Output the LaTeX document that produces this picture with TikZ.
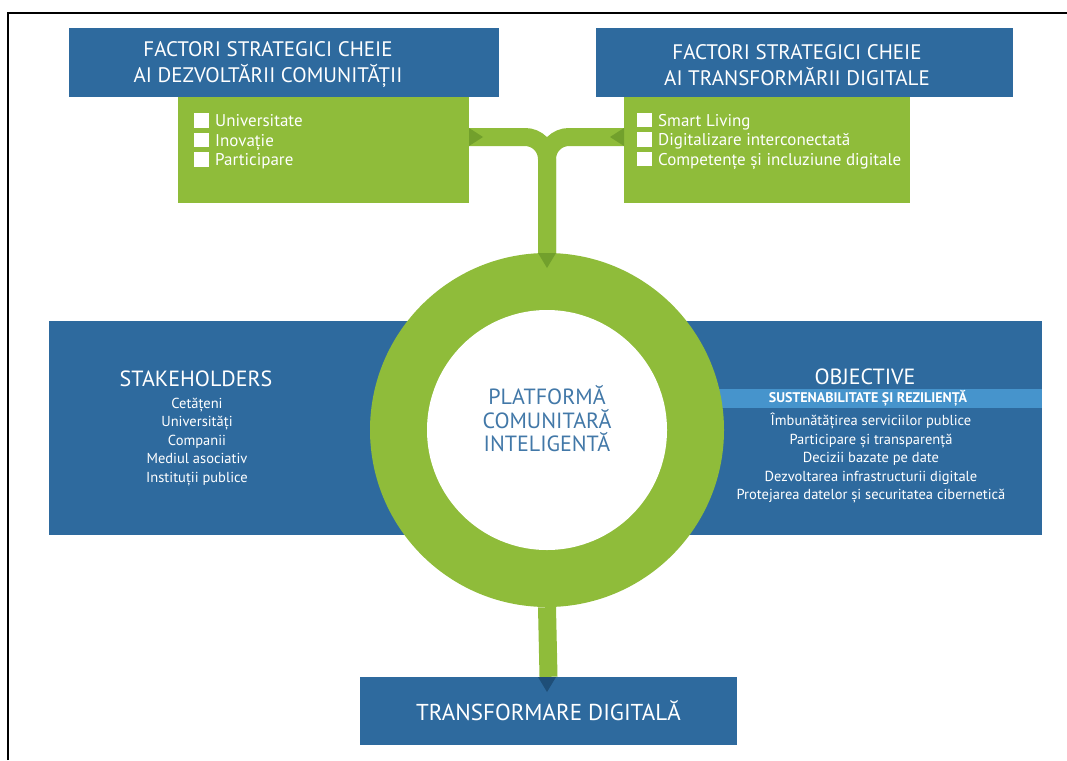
\documentclass[tikz,border=0pt]{standalone}
\usepackage{fontspec}
\setmainfont{PT Sans}
\usetikzlibrary{positioning}

\definecolor{boxblue}{RGB}{46,106,158}
\definecolor{leafgreen}{RGB}{143,188,58}
\definecolor{darkleaf}{RGB}{114,160,44}
\definecolor{stripeblue}{RGB}{70,148,204}
\definecolor{deepblue}{RGB}{30,78,120}
\definecolor{ringtext}{RGB}{66,120,168}

\tikzset{
  headbox/.style={fill=boxblue, inner sep=0pt, minimum height=69pt},
  headtext/.style={text=white, align=center, inner sep=0pt, font=\fontsize{21}{26}\selectfont},
  leafbox/.style={fill=leafgreen, inner sep=0pt, minimum height=106pt},
  itemlist/.style={text=white, align=left, inner sep=0pt, font=\fontsize{17}{19.5}\selectfont},
  sidebox/.style={fill=boxblue, inner sep=0pt, minimum width=497pt, minimum height=214pt},
  sidehead/.style={text=white, inner sep=0pt, font=\fontsize{22}{24}\selectfont},
  sidelist/.style={text=white, align=center, inner sep=0pt, font=\fontsize{14.5}{18.5}\selectfont},
  band/.style={leafgreen, line width=18pt},
}
\newcommand{\whitesq}{{\color{white}\rule[-1pt]{15pt}{14.5pt}}\hspace{6pt}}

\begin{document}
\begin{tikzpicture}[x=1pt,y=-1pt]
    \useasboundingbox (0,0) rectangle (1067,760);

    % Frame on the left and top
    \draw[line width=2.5pt] (8,760) -- (8,13) -- (1067,13);

    % Side panels behind the ring
    \node[sidebox] (stake) at (297,428) {};
    \node[sidebox] (obj) at (793.5,428) {};
    \node[fill=stripeblue, inner sep=0pt, minimum width=497pt, minimum height=19pt] (stripe) at (793.5,398.5) {};

    % Ring in the middle
    \node[circle, fill=leafgreen, inner sep=0pt, minimum size=354pt] (ring) at (547,430) {};
    \node[circle, fill=white, inner sep=0pt, minimum size=240pt] (core) at (ring.center) {};

    % Header boxes
    \node[headbox, minimum width=430pt] (dezv) at (283.5,62.5) {};
    \node[headbox, minimum width=417pt] (digi) at (804.5,62.5) {};

    % Green boxes under the headers
    \node[leafbox, minimum width=291pt] (dezvleaf) at (323.5,150) {};
    \node[leafbox, minimum width=286pt] (digileaf) at (767,150) {};

    % Band joining both green boxes to the ring
    \coordinate (hub) at (547,137);
    \draw[band, rounded corners=22pt] (dezvleaf.east |- hub) -| (ring.north);
    \draw[band, rounded corners=22pt] (digileaf.west |- hub) -| (ring.north);

    % Darker tips on the band
    \fill[darkleaf] (469,128) -- (483,137) -- (469,146) -- cycle;
    \fill[darkleaf] (624,128) -- (610,137) -- (624,146) -- cycle;
    \fill[darkleaf] (538,253) -- (547,268) -- (556,253) -- cycle;

    % Bottom box and its stem
    \node[fill=boxblue, inner sep=0pt, minimum width=377pt, minimum height=68pt] (transf) at (548.5,711) {};
    \draw[band] (ring.south) -- (transf.north);
    \fill[deepblue] (538,677) -- (547,692) -- (556,677) -- cycle;

    % Texts
    \node[headtext] (dezvtext) at (268,65) {FACTORI STRATEGICI CHEIE\\AI DEZVOLTĂRII COMUNITĂȚII};
    \node[headtext] (digitext) at (797,65) {FACTORI STRATEGICI CHEIE\\AI TRANSFORMĂRII DIGITALE};

    \node[itemlist, anchor=west] (dezvitems) at (194,141) {\whitesq Universitate\\\whitesq Inovație\\\whitesq Participare};
    \node[itemlist, anchor=west] (digiitems) at (637,141) {\whitesq Smart Living\\\whitesq Digitalizare interconectată\\\whitesq Competențe și incluziune digitale};

    \node[sidehead] (stakehead) at (196,379) {STAKEHOLDERS};
    \node[sidelist] (stakelist) at (197,442) {Cetățeni\\Universități\\Companii\\Mediul asociativ\\Instituții publice};

    \node[sidehead] (objhead) at (865,377) {OBJECTIVE};
    \node[text=white, inner sep=0pt, font=\fontsize{14}{15}\selectfont\bfseries] (stripetext) at (868,398.5) {SUSTENABILITATE ȘI REZILIENȚĂ};
    \node[sidelist] (objlist) at (871,458) {Îmbunătățirea serviciilor publice\\Participare și transparență\\Decizii bazate pe date\\Dezvoltarea infrastructurii digitale\\Protejarea datelor și securitatea cibernetică};

    \node[text=ringtext, align=center, inner sep=0pt, font=\fontsize{22}{23.5}\selectfont] (coretext) at (547,419) {PLATFORMĂ\\COMUNITARĂ\\INTELIGENTĂ};

    \node[text=white, inner sep=0pt, font=\fontsize{23}{24}\selectfont] (transftext) at (transf.center) {TRANSFORMARE DIGITALĂ};

\end{tikzpicture}
\end{document}
